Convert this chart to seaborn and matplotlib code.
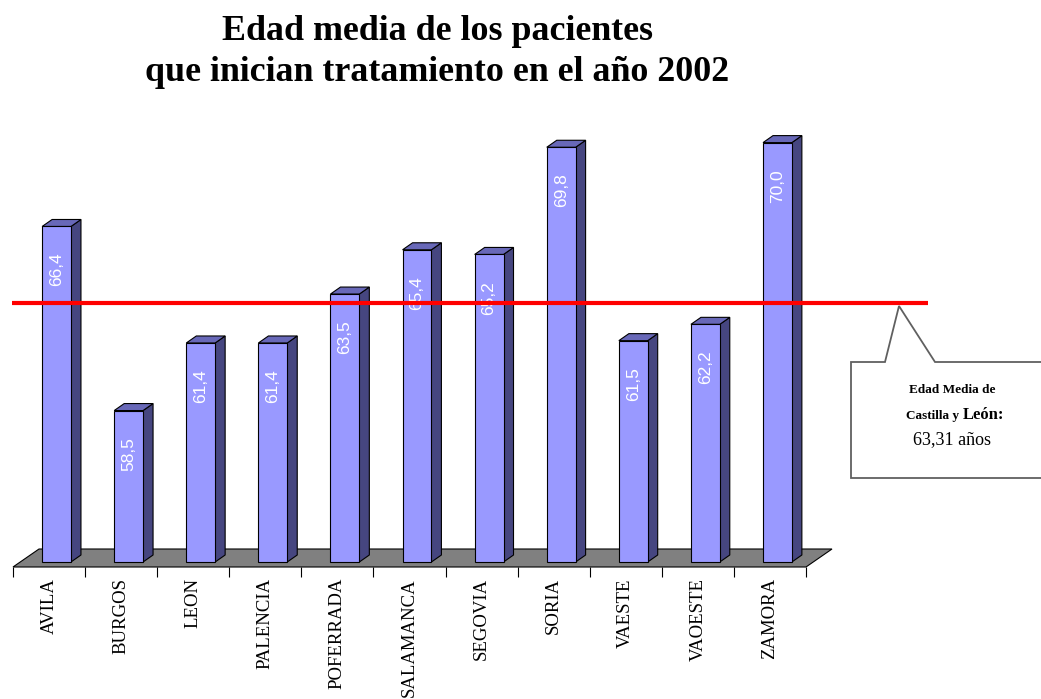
import numpy as np
import pandas as pd
import matplotlib
matplotlib.use("Agg")
import matplotlib.pyplot as plt
import matplotlib.transforms as mtransforms
from matplotlib.patches import Polygon
import seaborn as sns

# --- data -------------------------------------------------------------
provincias = ["AVILA", "BURGOS", "LEON", "PALENCIA", "POFERRADA", "SALAMANCA",
              "SEGOVIA", "SORIA", "VAESTE", "VAOESTE", "ZAMORA"]
edad_media = [66.4, 58.5, 61.4, 61.4, 63.5, 65.4, 65.2, 69.8, 61.5, 62.2, 70.0]
media_regional = 63.31
titulo_1 = "Edad media de los pacientes"
titulo_2 = "que inician tratamiento en el año 2002"

# --- style ------------------------------------------------------------
sns.set_style("white")
plt.rcParams["font.family"] = ["Liberation Serif", "DejaVu Serif"]
plt.rcParams["text.color"] = "black"
plt.rcParams["xtick.color"] = "black"
plt.rcParams["xtick.labelcolor"] = "black"

W, H, DPI = 1041, 699, 100
fig = plt.figure(figsize=(W / DPI, H / DPI), dpi=DPI)

BASE, TOP = 52.0, 71.0
ax_left, ax_bottom_px, ax_w_px, ax_h_px = 13, 567, 793, 442.7
ax = fig.add_axes([ax_left / W, (H - ax_bottom_px) / H, ax_w_px / W, ax_h_px / H])

n = len(provincias)
PX_X = ax_w_px / n                  # pixels per category
PX_Y = ax_h_px / (TOP - BASE)       # pixels per year

FRONT = "#9999FF"
SIDE = "#464680"
TOPC = "#6868B8"

df = pd.DataFrame({"provincia": provincias, "edad": edad_media})
sns.barplot(data=df, x="provincia", y="edad", color=FRONT, saturation=1,
            width=0.4, edgecolor="black", linewidth=0.8, ax=ax, zorder=3)

# bars stand a little behind the front edge of the floor
shift = mtransforms.ScaledTranslation(7.5 / DPI, 5 / DPI, fig.dpi_scale_trans)
bar_trans = ax.transData + shift

ddx, ddy = 10 / PX_X, 7 / PX_Y       # bar depth
for p, v in zip(ax.patches, edad_media):
    p.set_y(BASE)
    p.set_height(v - BASE)
    p.set_transform(bar_trans)
    x0, w = p.get_x(), p.get_width()
    side = Polygon([(x0 + w, BASE), (x0 + w, v), (x0 + w + ddx, v + ddy),
                    (x0 + w + ddx, BASE + ddy)], closed=True, facecolor=SIDE,
                   edgecolor="black", linewidth=0.8, transform=bar_trans, zorder=2)
    top = Polygon([(x0, v), (x0 + w, v), (x0 + w + ddx, v + ddy), (x0 + ddx, v + ddy)],
                  closed=True, facecolor=TOPC, edgecolor="black", linewidth=0.8,
                  transform=bar_trans, zorder=2)
    ax.add_patch(side)
    ax.add_patch(top)
    ax.annotate(f"{v:.1f}".replace(".", ","), xy=(x0 + w / 2, v), xycoords=bar_trans,
                xytext=(0, -19), textcoords="offset points", rotation=90,
                ha="center", va="top", color="white", fontsize=12.5,
                family=["Liberation Sans", "DejaVu Sans"], zorder=4)

# grey floor
fx, fy = 26 / PX_X, 18 / PX_Y
floor = Polygon([(-0.5, BASE), (n - 0.5, BASE), (n - 0.5 + fx, BASE + fy),
                 (-0.5 + fx, BASE + fy)], closed=True, facecolor="#808080",
                edgecolor="black", linewidth=0.8, zorder=1, clip_on=False)
ax.add_patch(floor)

# regional average line
ax.plot([-0.51, 12.19], [media_regional, media_regional], color="#FF0000",
        linewidth=3, solid_capstyle="butt", clip_on=False, zorder=6)

ax.set_xlim(-0.5, n - 0.5)
ax.set_ylim(BASE, TOP)
ax.set_xticks(range(n))
ax.set_xticklabels(provincias, rotation=90, fontsize=13.5, color="black",
                   family=["Liberation Serif", "DejaVu Serif"])
ax.set_xticks(np.arange(-0.5, n, 1), minor=True)
ax.tick_params(axis="x", which="major", length=0, pad=8)
ax.tick_params(axis="x", which="minor", length=7, width=0.8, color="black",
               direction="out", bottom=True)
ax.set_yticks([])
ax.set_xlabel("")
ax.set_ylabel("")
for s in ax.spines.values():
    s.set_visible(False)
ax.patch.set_alpha(0)


def fpx(x, y):
    return (x / W, 1 - y / H)


# title
fig.text(*fpx(437, 40), titulo_1, ha="center", va="baseline", fontsize=25.8,
         fontweight="bold", color="black")
fig.text(*fpx(437, 81), titulo_2, ha="center", va="baseline", fontsize=25.8,
         fontweight="bold", color="black")

# callout with the regional average
callout = Polygon([fpx(851, 478), fpx(851, 362), fpx(885, 362), fpx(899, 306),
                   fpx(935, 362), fpx(1046, 362), fpx(1046, 478)], closed=True,
                  facecolor="white", edgecolor="#606060", linewidth=1.3,
                  transform=fig.transFigure, zorder=7, clip_on=False)
fig.patches.append(callout)
fig.text(*fpx(952, 393), "Edad Media de", ha="center", va="baseline",
         fontsize=9.5, fontweight="bold", color="black", zorder=8)
fig.text(*fpx(959, 419), "Castilla y", ha="right", va="baseline",
         fontsize=9.5, fontweight="bold", color="black", zorder=8)
fig.text(*fpx(963, 419), "León:", ha="left", va="baseline",
         fontsize=12, fontweight="bold", color="black", zorder=8)
fig.text(*fpx(952, 444), f"{media_regional:.2f}".replace(".", ",") + " años",
         ha="center", va="baseline", fontsize=13, color="black", zorder=8)

fig.savefig("out.png", dpi=DPI)
